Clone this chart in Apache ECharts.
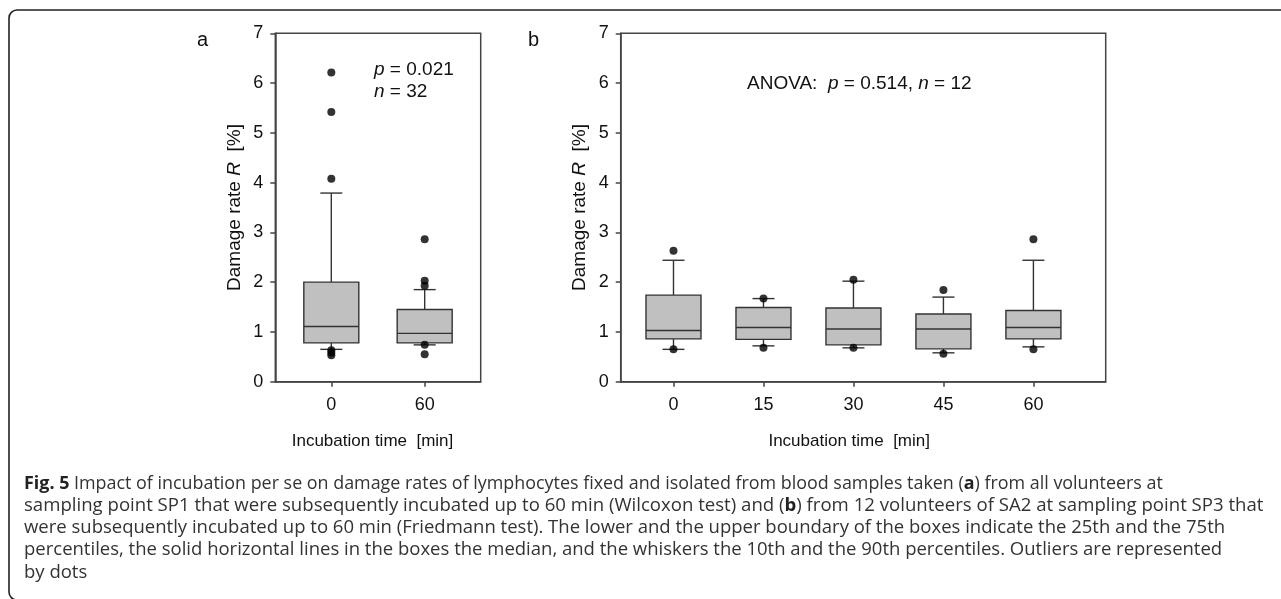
<!DOCTYPE html>
<html>
<head>
<meta charset="utf-8">
<script src="https://cdn.jsdelivr.net/npm/echarts@6/dist/echarts.min.js"></script>
<style>
html,body{margin:0;padding:0;background:#fff;}
#c{width:1281px;height:599px;}
</style>
</head>
<body>
<div id="c"></div>
<script>
// ---- Panel a data ----
const timesA = [0, 60];
const lowWhiskerA = [0.65, 0.74];
const q1A = [0.78, 0.78];
const medianA = [1.11, 0.97];
const q3A = [2.00, 1.45];
const highWhiskerA = [3.79, 1.85];
const outlierTimesA = [0, 0, 0, 0, 0, 0, 60, 60, 60, 60, 60];
const outlierValuesA = [6.21, 5.42, 4.08, 0.63, 0.58, 0.53, 2.86, 2.03, 1.93, 0.74, 0.55];
const tickLabelsA = [0, 60];

// ---- Panel b data ----
const timesB = [0, 15, 30, 45, 60];
const lowWhiskerB = [0.65, 0.72, 0.68, 0.58, 0.70];
const q1B = [0.86, 0.85, 0.74, 0.66, 0.86];
const medianB = [1.03, 1.09, 1.06, 1.06, 1.09];
const q3B = [1.74, 1.49, 1.48, 1.36, 1.43];
const highWhiskerB = [2.44, 1.67, 2.02, 1.70, 2.44];
const outlierTimesB = [0, 0, 15, 15, 30, 30, 45, 45, 60, 60];
const outlierValuesB = [2.63, 0.65, 1.67, 0.68, 2.05, 0.68, 1.84, 0.56, 2.86, 0.65];
const tickLabelsB = [0, 15, 30, 45, 60];

const FONT = 'Liberation Sans';
const CAPFONT = 'Open Sans';
const AXIS = '#444';
const BOXLINE = '#333';

function boxData(t, lo, q1, md, q3, hi) {
  return t.map((x, i) => [x, lo[i], q1[i], md[i], q3[i], hi[i]]);
}
function pts(t, v) { return t.map((x, i) => [x, v[i]]); }

function renderBox(params, api) {
  const x = api.value(0);
  const lo = api.coord([x, api.value(1)]);
  const q1 = api.coord([x, api.value(2)]);
  const md = api.coord([x, api.value(3)]);
  const q3 = api.coord([x, api.value(4)]);
  const hi = api.coord([x, api.value(5)]);
  const cx = lo[0];
  const bw = 55, cw = 22;
  const ls = { stroke: BOXLINE, lineWidth: 1.4 };
  return {
    type: 'group',
    children: [
      { type: 'line', shape: { x1: cx, y1: hi[1], x2: cx, y2: q3[1] }, style: ls },
      { type: 'line', shape: { x1: cx - cw / 2, y1: hi[1], x2: cx + cw / 2, y2: hi[1] }, style: ls },
      { type: 'line', shape: { x1: cx, y1: lo[1], x2: cx, y2: q1[1] }, style: ls },
      { type: 'line', shape: { x1: cx - cw / 2, y1: lo[1], x2: cx + cw / 2, y2: lo[1] }, style: ls },
      { type: 'rect', shape: { x: cx - bw / 2, y: q3[1], width: bw, height: q1[1] - q3[1] },
        style: { fill: '#c0c0c0', stroke: BOXLINE, lineWidth: 1.4 } },
      { type: 'line', shape: { x1: cx - bw / 2, y1: md[1], x2: cx + bw / 2, y2: md[1] }, style: ls }
    ]
  };
}

function xAxisCfg(idx, min, max, ticks, shiftPad) {
  return {
    gridIndex: idx, type: 'value', min: min, max: max,
    axisLine: { show: true, onZero: false, lineStyle: { color: AXIS, width: 1.5 } },
    axisTick: { show: true, inside: false, length: 5, customValues: ticks, lineStyle: { color: AXIS, width: 1.5 } },
    axisLabel: { customValues: ticks, margin: 14, fontFamily: FONT, fontSize: 18, color: '#111' },
    splitLine: { show: false },
    name: 'Incubation time  [min]', nameLocation: 'middle', nameGap: 51,
    nameTextStyle: { fontFamily: FONT, fontSize: 17, color: '#111', padding: [0, shiftPad, 0, 0] }
  };
}
function yAxisCfg(idx) {
  return {
    gridIndex: idx, type: 'value', min: 0, max: 7, interval: 1,
    axisLine: { show: true, onZero: false, lineStyle: { color: AXIS, width: 1.5 } },
    axisTick: { show: true, inside: false, length: 5, lineStyle: { color: AXIS, width: 1.5 } },
    axisLabel: { margin: 12, fontFamily: FONT, fontSize: 18, color: '#111' },
    splitLine: { show: false },
    name: '{t|Damage rate }{i|R}{t|  [%]}', nameLocation: 'middle', nameGap: 31,
    nameTextStyle: {
      fontFamily: FONT, fontSize: 19, color: '#111',
      rich: { t: { fontFamily: FONT, fontSize: 19, color: '#111' },
              i: { fontFamily: FONT, fontSize: 19, color: '#111', fontStyle: 'italic' } }
    }
  };
}

const richTxt = {
  t: { fontFamily: FONT, fontSize: 19, fill: '#111' },
  i: { fontFamily: FONT, fontSize: 19, fill: '#111', fontStyle: 'italic' }
};
function capRich(size) {
  return {
    n: { fontFamily: CAPFONT, fontSize: size, fill: '#333' },
    b: { fontFamily: CAPFONT, fontSize: size, fill: '#222', fontWeight: 'bold' }
  };
}
const captionLines = [
  '{b|Fig. 5}{n| Impact of incubation per se on damage rates of lymphocytes fixed and isolated from blood samples taken (}{b|a}{n|) from all volunteers at}',
  '{n|sampling point SP1 that were subsequently incubated up to 60 min (Wilcoxon test) and (}{b|b}{n|) from 12 volunteers of SA2 at sampling point SP3 that}',
  '{n|were subsequently incubated up to 60 min (Friedmann test). The lower and the upper boundary of the boxes indicate the 25th and the 75th}',
  '{n|percentiles, the solid horizontal lines in the boxes the median, and the whiskers the 10th and the 90th percentiles. Outliers are represented}',
  '{n|by dots}'
];
const captionY = [484, 506, 528, 550, 573];
const captionSize = [17.9, 18.6, 18.5, 18.5, 18.5];

const graphics = [
  { type: 'rect', shape: { x: 9, y: 10, width: 1300, height: 590, r: 8 },
    style: { fill: 'none', stroke: '#222', lineWidth: 1.6 }, silent: true },
  { type: 'text', x: 197, y: 40, style: { text: 'a', font: '20px "Liberation Sans"', fill: '#111', verticalAlign: 'middle' } },
  { type: 'text', x: 528, y: 40, style: { text: 'b', font: '20px "Liberation Sans"', fill: '#111', verticalAlign: 'middle' } },
  { type: 'text', x: 374, y: 70, style: { text: '{i|p}{t| = 0.021}', rich: richTxt, verticalAlign: 'middle' } },
  { type: 'text', x: 374, y: 91.5, style: { text: '{i|n}{t| = 32}', rich: richTxt, verticalAlign: 'middle' } },
  { type: 'text', x: 747, y: 83.5, style: { text: '{t|ANOVA:  }{i|p}{t| = 0.514, }{i|n}{t| = 12}', rich: richTxt, verticalAlign: 'middle' } }
];
captionLines.forEach((s, i) => {
  graphics.push({ type: 'text', x: 24, y: captionY[i], style: { text: s, rich: capRich(captionSize[i]), verticalAlign: 'middle' } });
});

const chart = echarts.init(document.getElementById('c'));
chart.setOption({
  backgroundColor: '#fff',
  animation: false,
  grid: [
    { left: 275.3, top: 33.3, width: 205.4, height: 348.4, show: true, borderColor: AXIS, borderWidth: 1.5 },
    { left: 620.7, top: 33.3, width: 485, height: 348.4, show: true, borderColor: AXIS, borderWidth: 1.5 }
  ],
  xAxis: [xAxisCfg(0, -36, 96, tickLabelsA, 11), xAxisCfg(1, -8.8, 72.05, tickLabelsB, 28)],
  yAxis: [yAxisCfg(0), yAxisCfg(1)],
  series: [
    { type: 'custom', xAxisIndex: 0, yAxisIndex: 0, renderItem: renderBox,
      data: boxData(timesA, lowWhiskerA, q1A, medianA, q3A, highWhiskerA), silent: true },
    { type: 'scatter', xAxisIndex: 0, yAxisIndex: 0, symbolSize: 8,
      itemStyle: { color: '#000' }, data: pts(outlierTimesA, outlierValuesA), silent: true },
    { type: 'custom', xAxisIndex: 1, yAxisIndex: 1, renderItem: renderBox,
      data: boxData(timesB, lowWhiskerB, q1B, medianB, q3B, highWhiskerB), silent: true },
    { type: 'scatter', xAxisIndex: 1, yAxisIndex: 1, symbolSize: 8,
      itemStyle: { color: '#000' }, data: pts(outlierTimesB, outlierValuesB), silent: true }
  ],
  graphic: graphics
});
</script>
</body>
</html>
